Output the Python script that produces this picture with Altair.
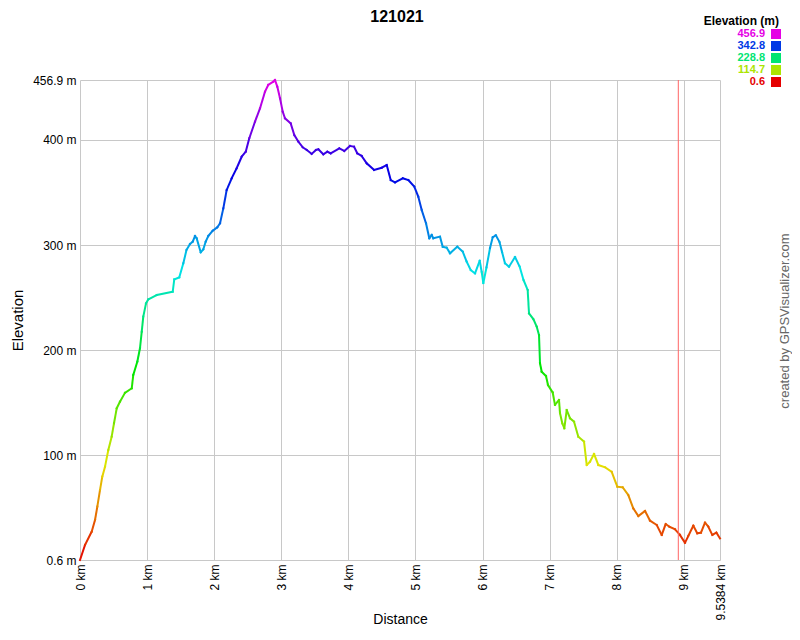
import colorsys
import altair as alt
import pandas as pd

# ---- data ----
dist_km = [0.000, 0.075, 0.174, 0.224, 0.258, 0.298, 0.332, 0.373, 0.422, 0.472,
           0.507, 0.547, 0.596, 0.671, 0.771, 0.794, 0.854, 0.894, 0.920, 0.943,
           0.984, 1.018, 1.143, 1.382, 1.405, 1.480, 1.540, 1.587, 1.639, 1.680,
           1.714, 1.739, 1.799, 1.838, 1.873, 1.912, 1.978, 2.046, 2.087, 2.136,
           2.186, 2.261, 2.335, 2.410, 2.470, 2.523, 2.608, 2.683, 2.757, 2.806,
           2.881, 2.906, 2.941, 2.981, 3.021, 3.055, 3.140, 3.194, 3.254, 3.319,
           3.379, 3.453, 3.517, 3.552, 3.626, 3.686, 3.736, 3.865, 3.939, 4.024,
           4.084, 4.133, 4.198, 4.273, 4.382, 4.497, 4.571, 4.631, 4.695, 4.810,
           4.893, 4.982, 5.042, 5.093, 5.157, 5.206, 5.242, 5.266, 5.365, 5.406,
           5.465, 5.515, 5.623, 5.704, 5.763, 5.823, 5.887, 5.957, 5.987, 6.011,
           6.058, 6.111, 6.151, 6.197, 6.252, 6.290, 6.334, 6.394, 6.483, 6.553,
           6.610, 6.672, 6.692, 6.756, 6.807, 6.841, 6.856, 6.881, 6.945, 6.975,
           7.045, 7.079, 7.139, 7.154, 7.188, 7.218, 7.254, 7.303, 7.363, 7.427,
           7.512, 7.552, 7.601, 7.661, 7.725, 7.825, 7.924, 8.008, 8.088, 8.172,
           8.246, 8.321, 8.421, 8.495, 8.595, 8.670, 8.729, 8.783, 8.868, 8.942,
           9.017, 9.066, 9.141, 9.200, 9.255, 9.315, 9.364, 9.424, 9.484, 9.538]
elev_m = [0.6, 14.9, 27.5, 38.6, 51.3, 67.1, 79.8, 89.3, 105.2, 117.8,
          130.6, 144.8, 151.1, 159.6, 163.8, 176.5, 189.1, 201.9, 217.6, 231.9,
          244.6, 248.4, 252.5, 255.7, 267.4, 269.3, 282.7, 295.3, 301.0, 303.2,
          308.6, 306.4, 293.1, 296.0, 303.2, 308.6, 313.6, 316.9, 320.7, 334.9,
          352.3, 363.5, 373.0, 384.0, 388.7, 401.5, 417.3, 430.0, 445.8, 452.2,
          455.3, 456.9, 450.5, 439.5, 426.8, 420.5, 415.7, 404.6, 398.3, 393.0,
          390.4, 386.6, 390.4, 391.0, 386.3, 388.7, 387.2, 392.0, 389.4, 394.2,
          393.5, 387.2, 384.7, 377.7, 371.4, 373.5, 376.1, 361.8, 359.6, 363.5,
          361.8, 355.5, 346.0, 333.3, 320.7, 306.4, 309.6, 306.4, 308.0, 298.4,
          297.5, 292.2, 298.4, 293.7, 284.2, 276.3, 273.1, 285.1, 274.4, 263.9,
          278.7, 297.2, 307.4, 309.3, 302.9, 293.4, 282.7, 279.4, 288.6, 279.4,
          266.8, 257.3, 235.1, 229.7, 222.4, 214.5, 187.6, 179.6, 175.5, 167.0,
          159.8, 148.0, 152.7, 140.1, 130.6, 125.8, 143.2, 135.3, 132.1, 117.8,
          113.1, 90.9, 94.0, 101.4, 90.9, 88.7, 84.5, 70.3, 69.7, 62.4,
          49.7, 42.4, 47.2, 38.0, 33.9, 24.4, 34.8, 32.3, 29.8, 24.4,
          17.0, 23.4, 33.2, 26.0, 26.6, 36.1, 32.3, 24.4, 26.6, 21.2]

x_ticks = [0, 1, 2, 3, 4, 5, 6, 7, 8, 9, 9.5384]
y_ticks = [0.6, 100, 200, 300, 400, 456.9]
legend_vals = [456.9, 342.8, 228.8, 114.7, 0.6]
marker_km = [8.917]
title_text = ["121021"]
legend_title = ["Elevation (m)"]
credit_text = ["created by GPSVisualizer.com"]

# ---- styling helpers ----
FONT = "Liberation Sans"
EMIN, EMAX = 0.6, 456.9
n_stops = 16
stops = [EMIN + (EMAX - EMIN) * i / (n_stops - 1) for i in range(n_stops)]
colors = []
for i in range(n_stops):
    r, g, b = colorsys.hsv_to_rgb((300.0 * i / (n_stops - 1)) / 360.0, 1.0, 0.9)
    colors.append("#%02x%02x%02x" % (int(r * 255), int(g * 255), int(b * 255)))
cscale = alt.Scale(domain=stops, range=colors, interpolate="rgb")

xscale = alt.Scale(domain=[0, 9.5384], nice=False, zero=False)
yscale = alt.Scale(domain=[EMIN, EMAX], nice=False, zero=False)

seg = pd.DataFrame({
    "x": dist_km[:-1], "x2": dist_km[1:],
    "y": elev_m[:-1], "y2": elev_m[1:],
})
seg["c"] = (seg["y"] + seg["y2"]) / 2

W, H = 640, 480

line = alt.Chart(seg).mark_rule(strokeWidth=2, strokeCap="square").encode(
    x=alt.X("x:Q", scale=xscale, title="Distance",
            axis=alt.Axis(values=x_ticks, labelExpr="datum.value + ' km'",
                          labelAngle=270, labelPadding=4, ticks=False, domain=False,
                          grid=True, gridColor="#c8c8c8", labelFont=FONT, labelFontSize=12,
                          labelColor="#000", titleFont=FONT, titleFontSize=14,
                          titleFontWeight="normal", titleColor="#000",
                          titleX=W / 2, titleY=59, titleBaseline="middle",
                          labelFlush=False, labelOverlap=False)),
    x2="x2:Q",
    y=alt.Y("y:Q", scale=yscale, title="Elevation",
            axis=alt.Axis(values=y_ticks, labelExpr="datum.value + ' m'",
                          labelPadding=4, ticks=False, domain=False,
                          grid=True, gridColor="#c8c8c8", labelFont=FONT, labelFontSize=12,
                          labelColor="#000", titleFont=FONT, titleFontSize=15,
                          titleFontWeight="normal", titleColor="#000",
                          titleX=-63, titleY=H / 2, titleAngle=270,
                          titleBaseline="middle", titleAlign="center",
                          labelFlush=False, labelOverlap=False)),
    y2="y2:Q",
    color=alt.Color("c:Q", scale=cscale, legend=None),
)

marker = alt.Chart(pd.DataFrame({"km": marker_km})).mark_rule(strokeWidth=1).encode(
    x=alt.X("km:Q", scale=xscale),
    color=alt.value("#ff6464"),
)

leg_df = pd.DataFrame({"v": legend_vals, "i": list(range(len(legend_vals)))})
leg_df["lab"] = leg_df["v"].map(lambda v: f"{v}")
leg_y = alt.Y("i:Q", axis=None,
              scale=alt.Scale(domain=[0, len(legend_vals) - 1], range=[-46, 2],
                              nice=False, zero=False))

leg_text = alt.Chart(leg_df).mark_text(
    align="right", baseline="middle", font=FONT, fontSize=11, fontWeight="bold"
).encode(
    x=alt.value(685), y=leg_y, text="lab:N",
    color=alt.Color("v:Q", scale=cscale, legend=None),
)

leg_sq = alt.Chart(leg_df).mark_square(size=100, opacity=1, filled=True).encode(
    x=alt.value(696), y=leg_y,
    color=alt.Color("v:Q", scale=cscale, legend=None),
)

leg_title = alt.Chart(pd.DataFrame({"t": legend_title})).mark_text(
    align="right", baseline="middle", font=FONT, fontSize=12, fontWeight="bold",
    color="#000"
).encode(x=alt.value(699), y=alt.value(-59), text="t:N")

title = alt.Chart(pd.DataFrame({"t": title_text})).mark_text(
    align="center", baseline="alphabetic", font=FONT, fontSize=16, fontWeight="bold",
    color="#000"
).encode(x=alt.value(317), y=alt.value(-58), text="t:N")

credit = alt.Chart(pd.DataFrame({"t": credit_text})).mark_text(
    align="center", baseline="middle", angle=270, font=FONT, fontSize=13,
    color="#666666"
).encode(x=alt.value(705), y=alt.value(241), text="t:N")

chart = alt.layer(line, marker, leg_text, leg_sq, leg_title, title, credit).resolve_scale(
    y="independent"
).properties(
    width=W, height=H,
    autosize=alt.AutoSizeParams(type="none"),
    padding={"left": 72, "top": 72, "right": 72, "bottom": 68},
).configure_view(strokeWidth=0)

chart.save("out.html", embed_options={"renderer": "svg", "actions": False})
